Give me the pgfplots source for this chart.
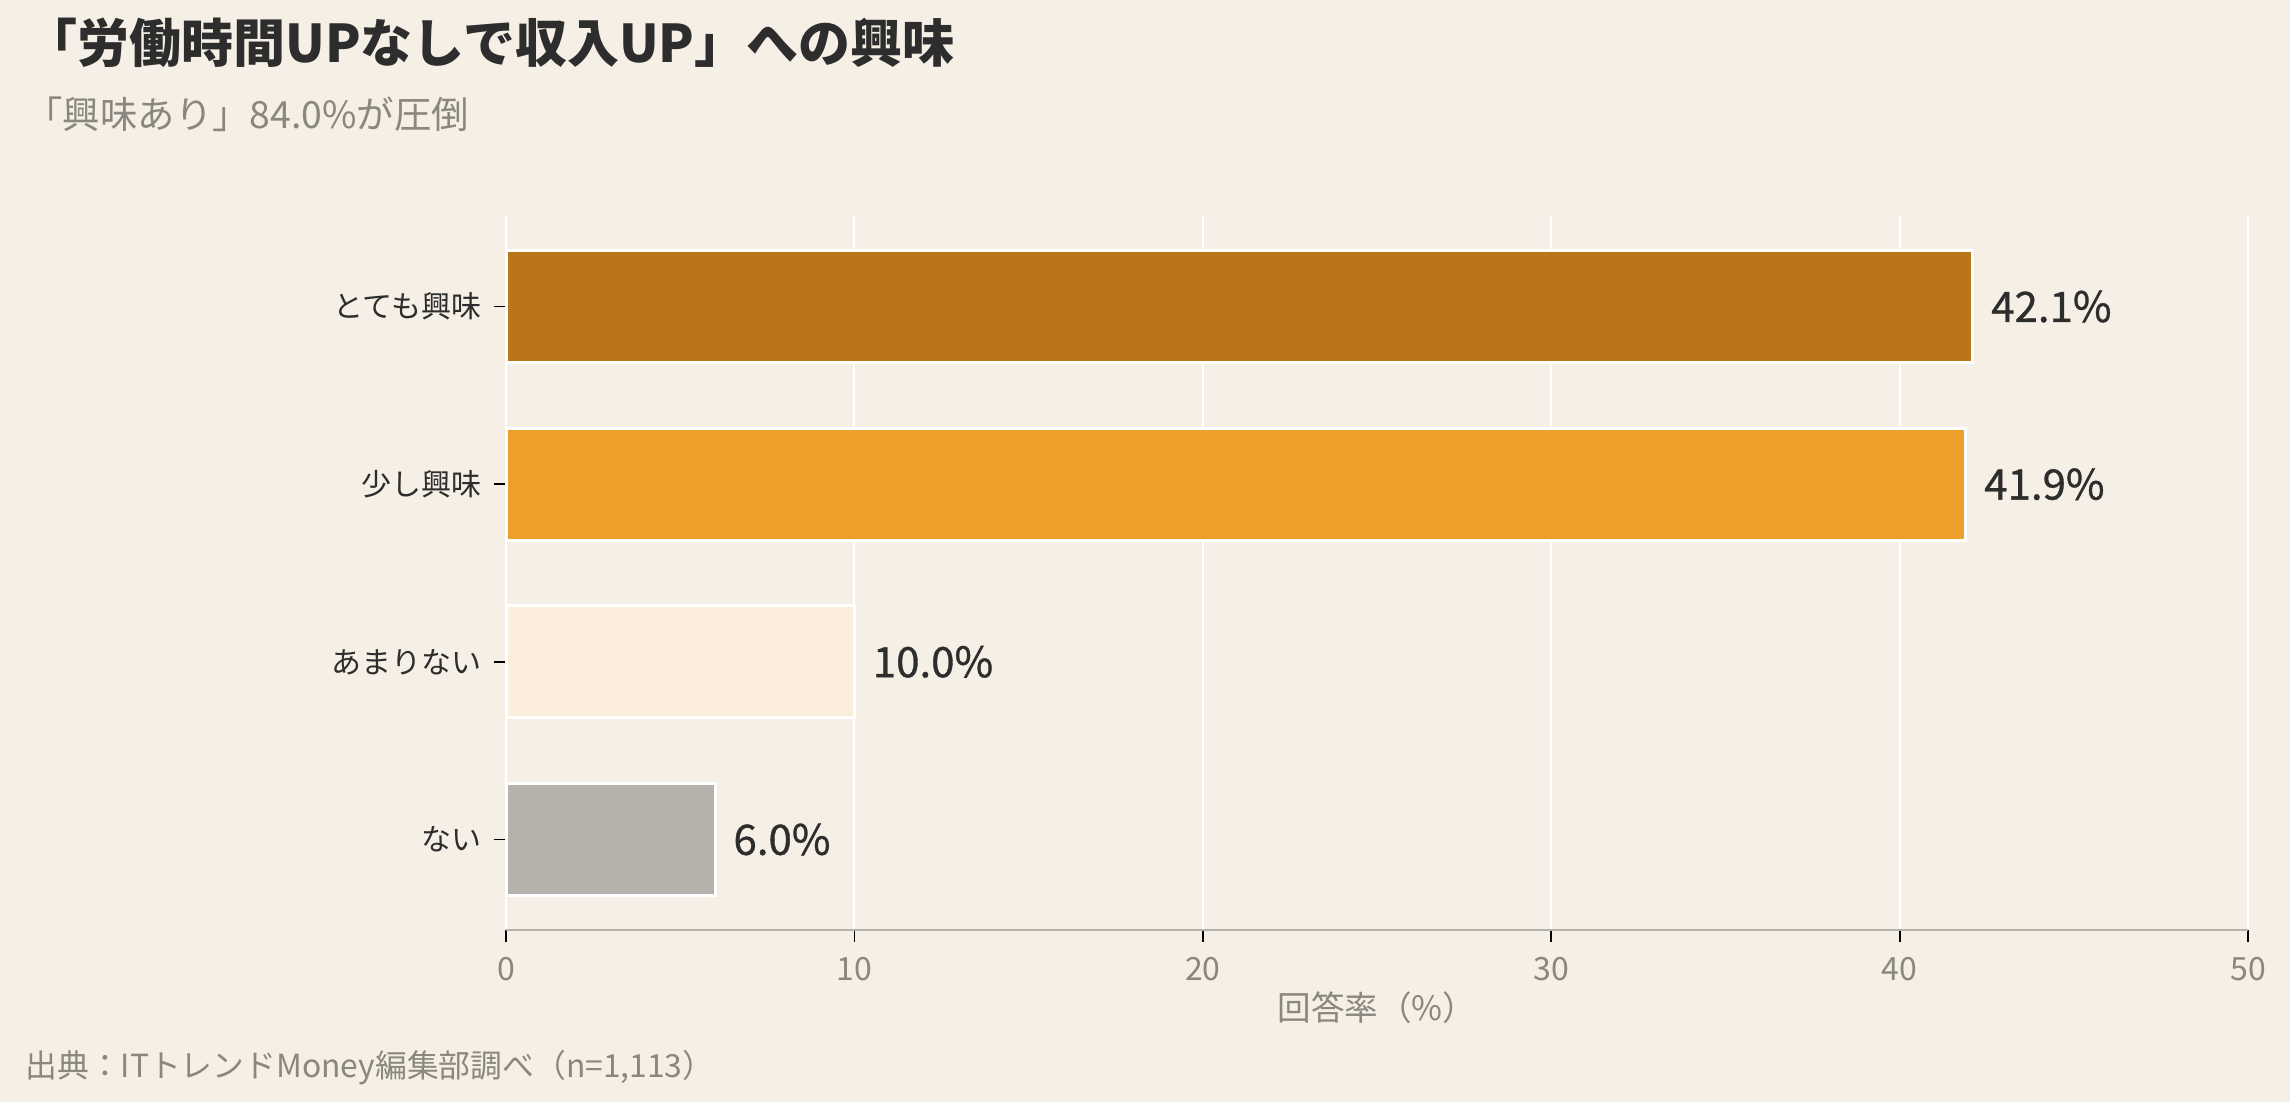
\documentclass[border=0pt]{standalone}
\usepackage{fontspec}
\setmainfont{Noto Sans CJK JP}
\newfontfamily\valfont[FakeBold=0.8]{Noto Sans CJK JP}
\usepackage{pgfplots}
\pgfplotsset{compat=1.18}
\definecolor{bg}{HTML}{F5EFE5}
\definecolor{cA}{HTML}{B97517}
\definecolor{cB}{HTML}{EE9F29}
\definecolor{cC}{HTML}{FAEDDC}
\definecolor{cD}{HTML}{B5B2AB}
\definecolor{dark}{HTML}{2D2D2D}
\definecolor{graytext}{HTML}{8A877F}
\definecolor{axisgray}{HTML}{B5B2AB}
\begin{document}
\begin{tikzpicture}
\fill[bg] (0pt,0pt) rectangle (1145pt,-551pt);
\node[anchor=base west, inner sep=0pt, font=\fontsize{26}{30}\selectfont\bfseries, text=dark] at (12.5pt,-31.5pt) {「労働時間UPなしで収入UP」への興味};
\node[anchor=base west, inner sep=0pt, font=\fontsize{18.7}{22}\selectfont, text=graytext] at (12.5pt,-64pt) {「興味あり」84.0\%が圧倒};
\node[anchor=base west, inner sep=0pt, font=\fontsize{15.9}{19}\selectfont, text=graytext] at (12.5pt,-538.5pt) {出典：ITトレンドMoney編集部調べ（n=1,113）};
\begin{axis}[
  at={(253pt,-465pt)}, anchor=south west,
  width=871pt, height=357pt, scale only axis,
  xmin=0, xmax=50, ymin=-0.51, ymax=3.51,
  axis x line*=bottom, axis y line*=left,
  x axis line style={draw=axisgray, line width=1.3pt},
  y axis line style={draw=none},
  xtick={0,10,20,30,40,50},
  ytick={0,1,2,3},
  yticklabels={ない,あまりない,少し興味,とても興味},
  tick align=outside, major tick length=5.8pt,
  tick style={draw=black, line width=0.9pt},
  xmajorgrids, major grid style={draw=white, line width=1pt},
  /pgf/number format/assume math mode=true,
  xticklabel style={font=\fontsize{16}{19}\selectfont, text=graytext, anchor=center, inner sep=0pt, yshift=-13.5pt},
  yticklabel style={font=\fontsize{15}{18}\selectfont, text=dark, anchor=east, inner sep=0pt, xshift=-6.5pt},
  xlabel={回答率（\%）},
  xlabel style={font=\fontsize{16.8}{20}\selectfont, text=graytext, at={(axis description cs:0.5,0)}, anchor=center, inner sep=0pt, yshift=-39pt},
  clip=false,
  mybar/.style={xbar, bar width=56pt, bar shift=0pt, draw=white, line width=1.5pt, fill=#1,
    point meta=x,
    nodes near coords={\pgfmathprintnumber[fixed,fixed zerofill,precision=1]{\pgfplotspointmeta}\%},
    nodes near coords style={anchor=west, inner sep=0pt, xshift=8.5pt, font=\fontsize{21}{25}\selectfont\valfont, text=dark}},
]
\addplot[mybar=cA] coordinates {(42.1,3)};
\addplot[mybar=cB] coordinates {(41.9,2)};
\addplot[mybar=cC] coordinates {(10.0,1)};
\addplot[mybar=cD] coordinates {(6.0,0)};
\end{axis}
\end{tikzpicture}
\end{document}
